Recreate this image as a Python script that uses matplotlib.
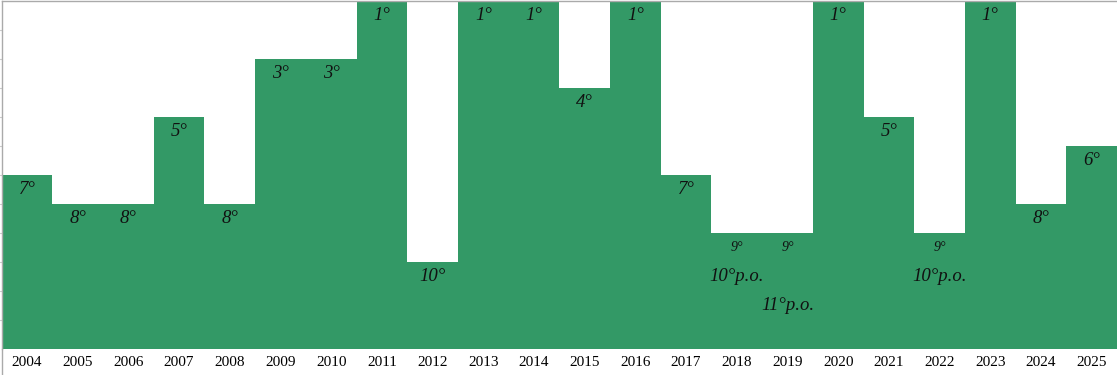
import numpy as np
import matplotlib.pyplot as plt

# season positions (league table)
years = [2004, 2005, 2006, 2007, 2008, 2009, 2010, 2011, 2012, 2013, 2014,
         2015, 2016, 2017, 2018, 2019, 2020, 2021, 2022, 2023, 2024, 2025]
positions = [7, 8, 8, 5, 8, 3, 3, 1, 10, 1, 1, 4, 1, 7, 9, 9, 1, 5, 9, 1, 8, 6]
# final play-off placings for some seasons
playoff_years = [2018, 2019, 2022]
playoff_positions = [10, 11, 10]

n_levels = 12
green = '#339966'

fig = plt.figure(figsize=(11.17, 3.75), dpi=100)
ax = fig.add_axes([0.0015, 26 / 375, 0.9985, 348 / 375])

x = np.arange(len(years))
heights = [n_levels + 1 - p for p in positions]
ax.bar(x, heights, width=1.0, color=green, align='center', linewidth=0)

lab_font = dict(family=['Liberation Serif', 'DejaVu Serif'], style='italic')
for i, p in enumerate(positions):
    top = n_levels + 1 - p
    small = years[i] in playoff_years
    ax.text(x[i], top - 0.5, '%d°' % p, ha='center', va='center',
            fontsize=10 if small else 13.5, color='#111111', **lab_font)

for yr, pp in zip(playoff_years, playoff_positions):
    i = years.index(yr)
    ax.text(x[i], n_levels + 1 - pp - 0.5, '%d°p.o.' % pp, ha='center',
            va='center', fontsize=13.5, color='#111111', **lab_font)

ax.set_xlim(-0.5, len(years) - 0.5)
ax.set_ylim(0, n_levels)
ax.set_xticks(x)
ax.set_xticklabels([str(y) for y in years], family=['Liberation Serif', 'DejaVu Serif'],
                   fontsize=11)
ax.tick_params(axis='x', length=0, pad=5)
ax.set_yticks(np.arange(1, n_levels))
ax.tick_params(axis='y', direction='out', length=3, color='#cccccc', labelleft=False)

for s in ['right', 'bottom']:
    ax.spines[s].set_visible(False)
for s in ['left', 'top']:
    ax.spines[s].set_color('#aaaaaa')
    ax.spines[s].set_linewidth(1)

# left border carries on down past the year row
fig.add_artist(plt.Line2D([0.0015, 0.0015], [0, 26 / 375], transform=fig.transFigure,
                          color='#aaaaaa', linewidth=1))

fig.savefig('out.png', dpi=100)
